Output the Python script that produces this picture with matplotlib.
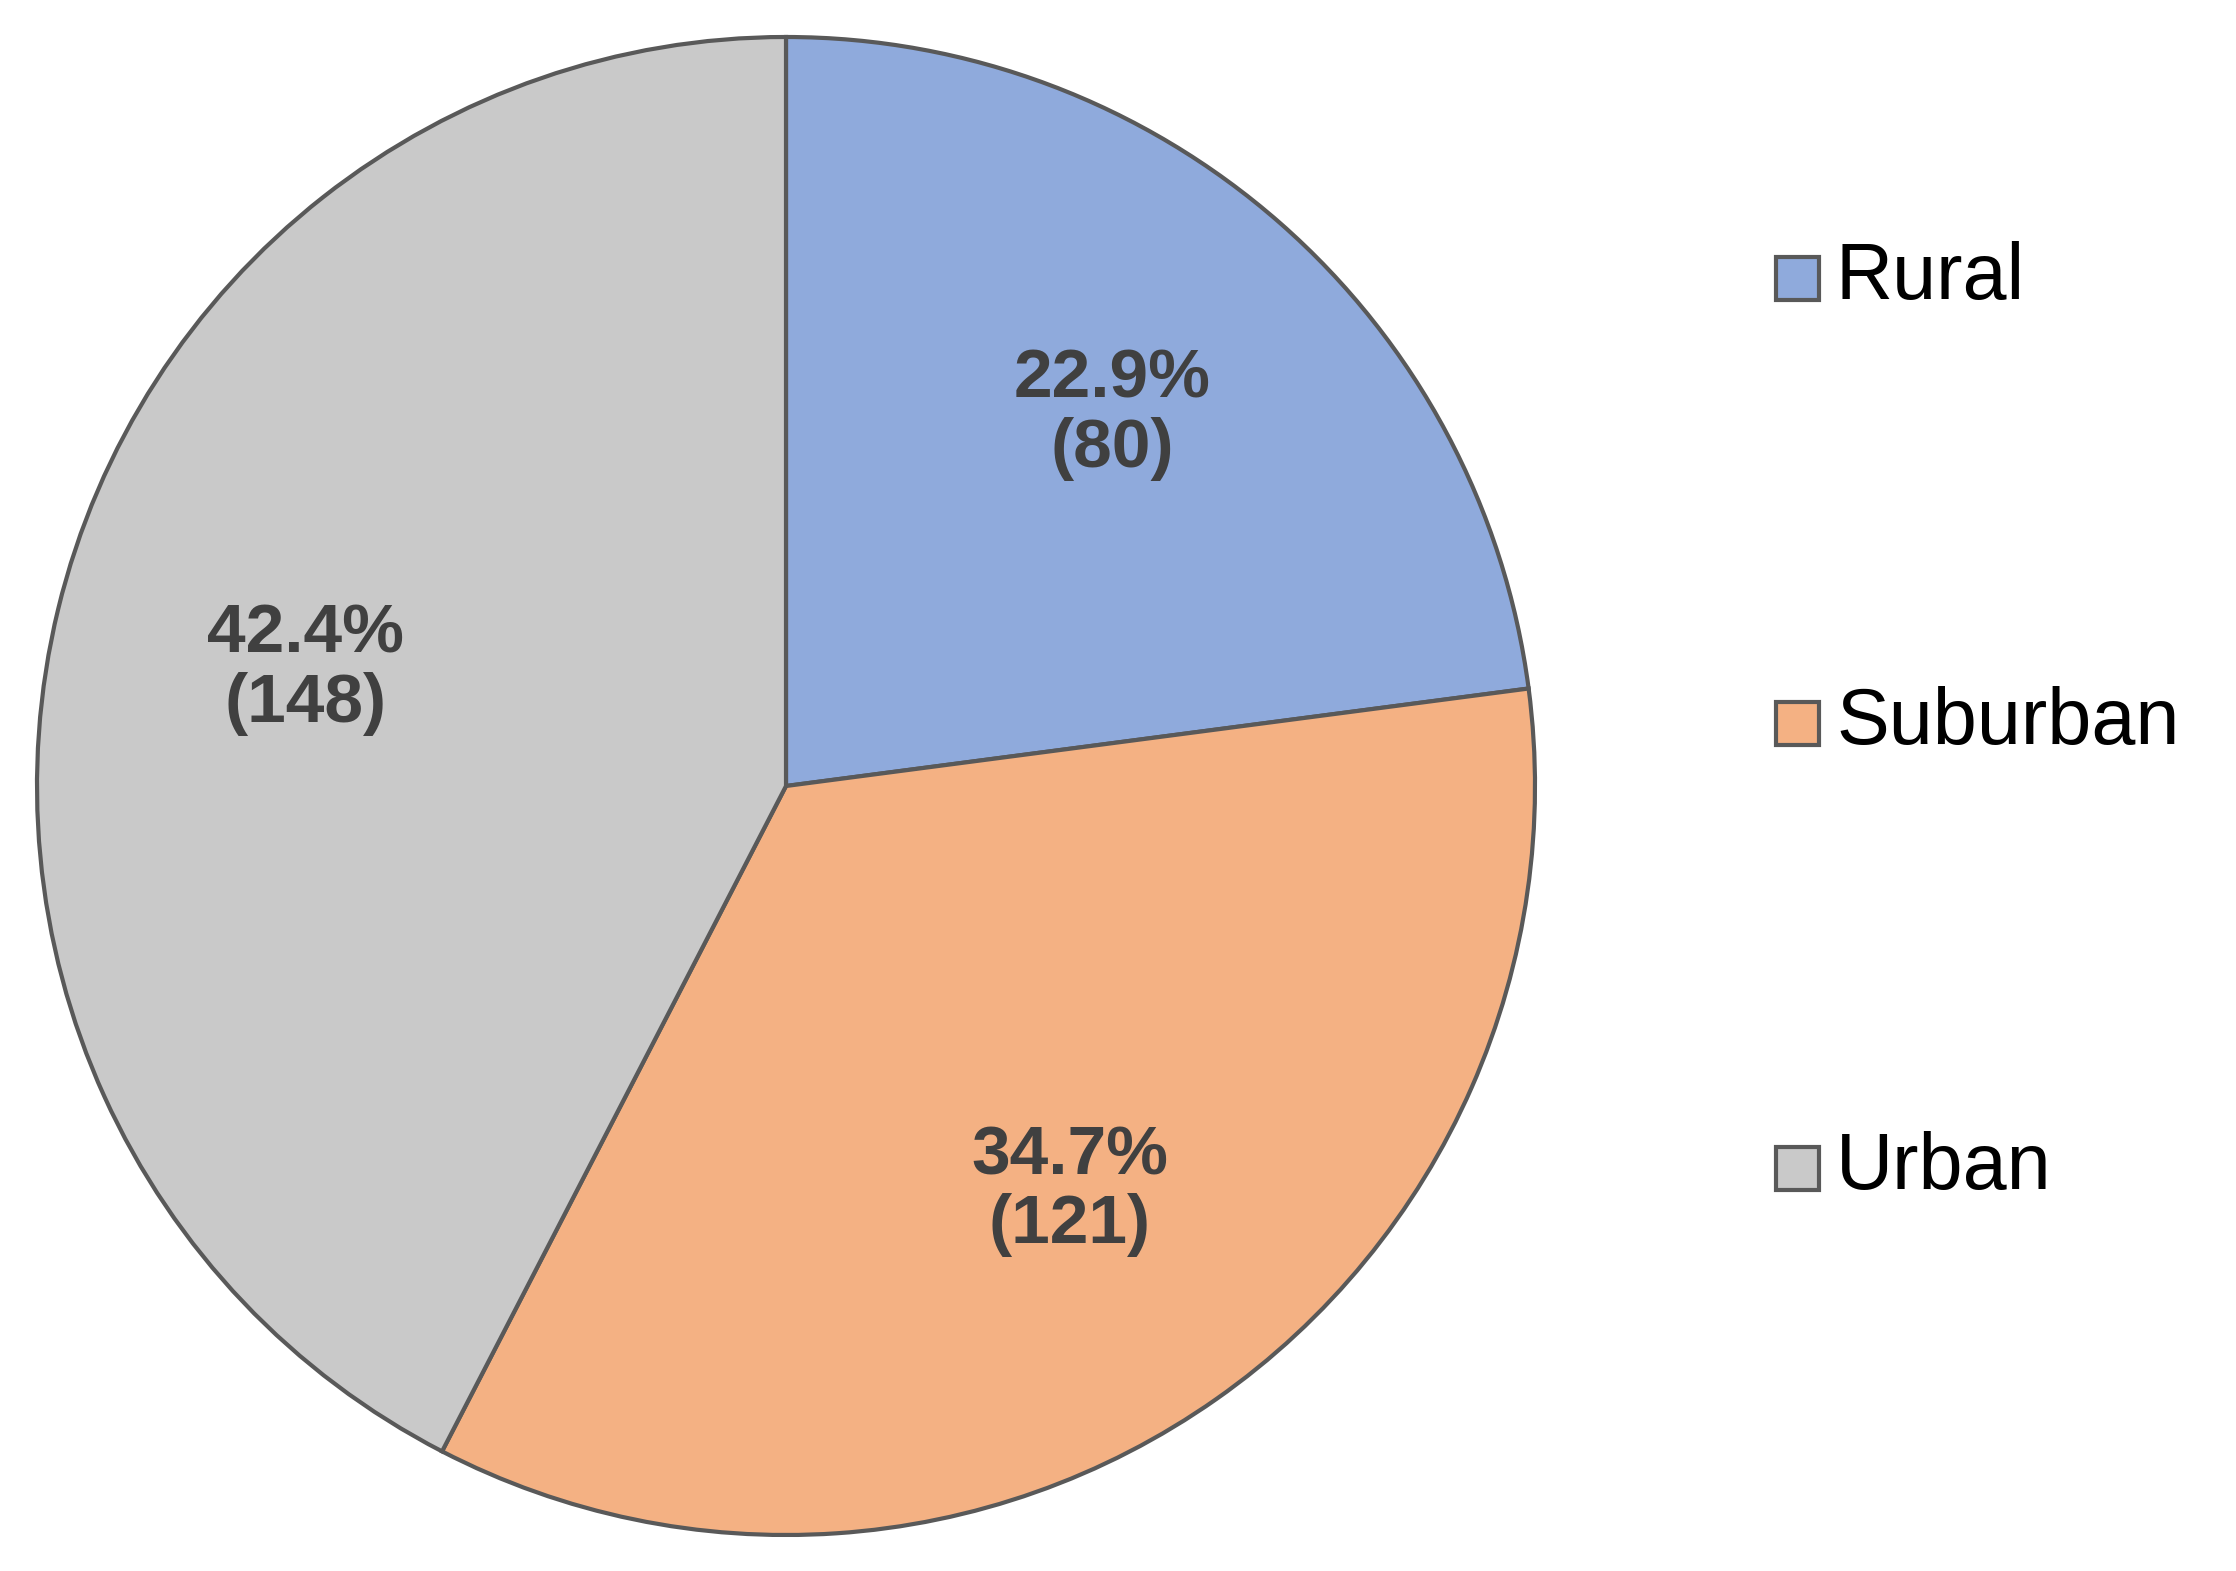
import matplotlib
matplotlib.use("Agg")
import matplotlib.pyplot as plt
from matplotlib.patches import Rectangle

categories = ["Rural", "Suburban", "Urban"]
counts = [80, 121, 148]
percents = [22.9, 34.7, 42.4]
colors = ["#8FAADC", "#F4B183", "#C9C9C9"]
edge = "#595959"

W, H = 2236, 1571
fig = plt.figure(figsize=(W/100, H/100), dpi=100)
cx, cy, r = 786, 786, 749
ax = fig.add_axes([(cx-r)/W, 1-(cy+r)/H, 2*r/W, 2*r/H])
wedges, _ = ax.pie(counts, colors=colors, startangle=90, counterclock=False,
                   wedgeprops=dict(edgecolor=edge, linewidth=3))
import numpy as np
for w, p, c in zip(wedges, percents, counts):
    ang = np.deg2rad((w.theta1 + w.theta2)/2)
    ax.text(0.66*np.cos(ang), 0.66*np.sin(ang), f"{p}%\n({c})", ha="center", va="center",
            fontsize=50, fontweight="bold", color="#404040", family="Liberation Sans",
            linespacing=1.1)
ax.set_xlim(-1.0, 1.0); ax.set_ylim(-1.0, 1.0)
ax.set_aspect("equal")

ys = [278, 723, 1168]
s = 43
for name, col, y in zip(categories, colors, ys):
    fig.patches.append(Rectangle(((1776)/W, 1-(y+s/2)/H), s/W, s/H, transform=fig.transFigure,
                                 facecolor=col, edgecolor=edge, linewidth=3))
    fig.text(1836/W, 1-y/H, name, ha="left", va="center", fontsize=57,
             family="Liberation Sans", color="black")
fig.savefig("out.png", dpi=100)
